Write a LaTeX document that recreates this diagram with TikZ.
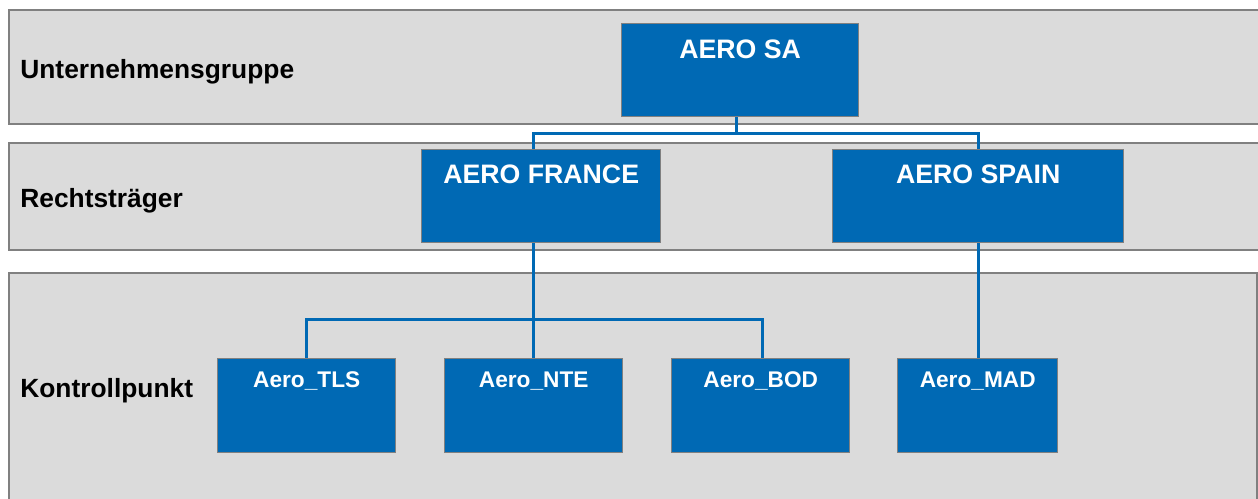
\documentclass[tikz,border=0pt]{standalone}
\usepackage{fontspec}
\setmainfont{Liberation Sans}
\usetikzlibrary{positioning}
\definecolor{aeroblue}{RGB}{0,105,180}
\definecolor{bandgray}{RGB}{219,219,219}
\definecolor{edgegray}{RGB}{128,128,128}
\newcommand{\bigname}{\bfseries\fontsize{15.2}{18}\selectfont}
\newcommand{\smallname}{\bfseries\fontsize{12.9}{15}\selectfont}
\tikzset{
  band/.style={draw=edgegray, fill=bandgray, line width=1pt},
  unit/.style={draw=edgegray, fill=aeroblue, line width=0.8pt, inner sep=0pt, anchor=north west},
  unitname/.style={text=white, anchor=center},
  level/.style={font=\bfseries\fontsize{15}{18}\selectfont, anchor=west, inner sep=0pt},
  link/.style={draw=aeroblue, line width=1.7pt},
}
\begin{document}
\begin{tikzpicture}[x=0.02cm, y=-0.02cm]
\useasboundingbox (0,0) rectangle (1258,499);
% the three levels
\begin{scope}
\filldraw[band] (9,10) rectangle (1262,124);
\filldraw[band] (9,143) rectangle (1262,250);
\filldraw[band] (9,273) rectangle (1257,504);
\end{scope}
\node[level] (lvgroup) at (20,72) {Unternehmensgruppe};
\node[level] (lvlegal) at (20,201) {Rechtsträger};
\node[level] (lvctrl) at (20,391) {Kontrollpunkt};
% the boxes
%     group
\node[unit, minimum width=237*0.02cm, minimum height=93*0.02cm] (sa) at (621,23) {};
%     legal units
\node[unit, minimum width=239*0.02cm, minimum height=93*0.02cm] (france) at (421,149) {};
\node[unit, minimum width=291*0.02cm, minimum height=93*0.02cm] (spain) at (832,149) {};
%     control points
\node[unit, minimum width=178*0.02cm, minimum height=94*0.02cm] (tls) at (217,358) {};
\node[unit, minimum width=178*0.02cm, minimum height=94*0.02cm] (nte) at (444,358) {};
\node[unit, minimum width=178*0.02cm, minimum height=94*0.02cm] (bod) at (671,358) {};
\node[unit, minimum width=160*0.02cm, minimum height=94*0.02cm] (mad) at (897,358) {};
% the names
\node[unitname, font=\bigname, below=26*0.02cm of sa.north, anchor=center] (saname) {AERO SA};
\node[unitname, font=\bigname, below=25*0.02cm of france.north, anchor=center] (francename) {AERO FRANCE};
\node[unitname, font=\bigname, below=25*0.02cm of spain.north, anchor=center] (spainname) {AERO SPAIN};
\node[unitname, font=\smallname, below=23*0.02cm of tls.north, anchor=center] (tlsname) {Aero\_TLS};
\node[unitname, font=\smallname, below=23*0.02cm of nte.north, anchor=center] (ntename) {Aero\_NTE};
\node[unitname, font=\smallname, below=23*0.02cm of bod.north, anchor=center] (bodname) {Aero\_BOD};
\node[unitname, font=\smallname, below=23*0.02cm of mad.north, anchor=center] (madname) {Aero\_MAD};
% the links
\draw[link] ([xshift=-4*0.02cm]sa.south) -- ++(0,16) -| ([xshift=-8*0.02cm]france.north);
\draw[link] ([xshift=-4*0.02cm]sa.south) -- ++(0,16) -| (spain.north);
\draw[link] ([xshift=-8*0.02cm]france.south) -- ([xshift=-8*0.02cm]france.south |- nte.north);
\draw[link] ([xshift=-8*0.02cm]france.south) ++(0,76) -| (tls.north);
\draw[link] ([xshift=-8*0.02cm]france.south) ++(0,76) -| ([xshift=2*0.02cm]bod.north);
\draw[link] (spain.south) -- (spain.south |- mad.north);
\end{tikzpicture}
\end{document}
